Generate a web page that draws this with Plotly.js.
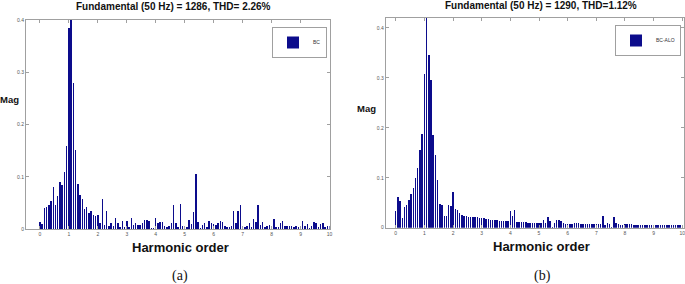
<!DOCTYPE html>
<html>
<head>
<meta charset="utf-8">
<script src="https://cdn.plot.ly/plotly-3.0.1.min.js"></script>
<style>html,body{margin:0;padding:0;background:#fff;}#chart{width:685px;height:284px;}</style>
</head>
<body>
<div id="chart"></div>
<script>
// FFT bin spacing: 13 bins per harmonic order
const binsPerHarmonic = 13;

// (a) BC spectrum, magnitude per bin (bin 0 .. 130 -> harmonic 0 .. 10)
const magBC = [
  0.013,0.010,0.041,0.042,0.045,0.054,0.081,0.046,0.064,0.090,
  0.084,0.110,0.158,0.385,0.410,0.280,0.152,0.087,0.065,0.057,
  0.038,0.042,0.031,0.035,0.026,0.025,0.026,0.011,0.057,0.008,
  0.035,0.006,0.011,0.006,0.022,0.011,0.004,0.016,0.003,0.016,
  0.003,0.022,0.008,0.012,0.008,0.008,0.012,0.017,0.017,0.015,
  0.001,0.001,0.022,0.011,0.014,0.013,0.006,0.003,0.006,0.012,
  0.046,0.011,0.004,0.047,0.006,0.006,0.003,0.017,0.009,0.032,
  0.106,0.014,0.001,0.008,0.012,0.004,0.015,0.011,0.009,0.008,
  0.011,0.015,0.013,0.006,0.004,0.004,0.006,0.035,0.011,0.035,
  0.046,0.001,0.004,0.006,0.011,0.004,0.019,0.014,0.046,0.008,
  0.013,0.003,0.006,0.008,0.003,0.019,0.003,0.004,0.011,0.015,
  0.006,0.006,0.006,0.006,0.003,0.006,0.003,0.006,0.015,0.006,
  0.010,0.001,0.006,0.013,0.011,0.003,0.009,0.011,0.003,0.006,
  0.006
];

// (b) BC-ALO spectrum
const magBCALO = [
  0.034,0.062,0.053,0.020,0.042,0.045,0.055,0.067,0.080,0.100,
  0.119,0.155,0.188,0.307,0.430,0.346,0.296,0.186,0.145,0.095,
  0.047,0.045,0.023,0.023,0.045,0.043,0.072,0.037,0.035,0.030,
  0.025,0.024,0.023,0.022,0.021,0.021,0.021,0.021,0.020,0.019,
  0.019,0.018,0.017,0.016,0.015,0.015,0.015,0.014,0.014,0.013,
  0.013,0.013,0.033,0.023,0.035,0.011,0.011,0.011,0.011,0.011,
  0.010,0.009,0.009,0.009,0.009,0.009,0.010,0.015,0.010,0.021,
  0.013,0.001,0.010,0.015,0.015,0.013,0.010,0.007,0.007,0.007,
  0.008,0.009,0.009,0.009,0.008,0.007,0.007,0.007,0.007,0.007,
  0.007,0.007,0.007,0.007,0.023,0.006,0.010,0.008,0.001,0.021,
  0.010,0.007,0.006,0.006,0.007,0.007,0.007,0.007,0.006,0.006,
  0.006,0.006,0.006,0.006,0.006,0.006,0.006,0.006,0.006,0.006,
  0.006,0.006,0.006,0.005,0.005,0.005,0.005,0.005,0.005,0.005,
  0.005
];

const xTicks = [0,1,2,3,4,5,6,7,8,9,10];
const yTicksA = [0,0.1,0.2,0.3,0.4];
const yTicksB = [0,0.1,0.2,0.3,0.4];
const titleA = 'Fundamental (50 Hz) = 1286, THD= 2.26%';
const titleB = 'Fundamental (50 Hz) = 1290, THD=1.12%';
const nameA = 'BC';
const nameB = 'BC-ALO';

const harmonicA = magBC.map((_, i) => i / binsPerHarmonic);
const harmonicB = magBCALO.map((_, i) => i / binsPerHarmonic);

const barColor = '#0c0c8c';
const W = 685, H = 284;
const px = v => v / W;
const py = v => (H - v) / H;

const traces = [
  {type:'bar', x: harmonicA, y: magBC, name: nameA, xaxis:'x', yaxis:'y', legend:'legend',
   width: 0.05, marker:{color: barColor, line:{width:0}}},
  {type:'bar', x: harmonicB, y: magBCALO, name: nameB, xaxis:'x2', yaxis:'y2', legend:'legend2',
   width: 0.05, marker:{color: barColor, line:{width:0}}}
];

const axisStyle = {
  showline:true, linecolor:'#a0a0a0', linewidth:1, mirror:'allticks',
  ticks:'inside', ticklen:3, tickcolor:'#a0a0a0', tickwidth:1,
  showgrid:false, zeroline:false, ticklabeloverflow:'allow',
  tickfont:{family:'Liberation Sans, Arial, sans-serif', size:5, color:'#555'}
};

const annFont = (size) => ({family:'Liberation Sans, Arial, sans-serif', size: size, color:'#111', weight:'bold'});
const annotations = [
  {text:'<b>'+titleA+'</b>', x:px(173), y:py(7), font:annFont(10)},
  {text:'<b>'+titleB+'</b>', x:px(541), y:py(5.5), font:annFont(10)},
  {text:'<b>Mag</b>', x:px(9.5), y:py(99), font:annFont(9.5)},
  {text:'<b>Mag</b>', x:px(366.7), y:py(108), font:annFont(9.5)},
  {text:'<b>Harmonic order</b>', x:px(180), y:py(247), font:annFont(13)},
  {text:'<b>Harmonic order</b>', x:px(541.7), y:py(246), font:annFont(13)},
  {text:'(a)', x:px(179.5), y:py(276), font:{family:'Liberation Serif, Times New Roman, serif', size:14, color:'#111'}},
  {text:'(b)', x:px(542), y:py(276), font:{family:'Liberation Serif, Times New Roman, serif', size:14, color:'#111'}}
].map(a => Object.assign({xref:'paper', yref:'paper', xanchor:'center', yanchor:'middle', showarrow:false, borderpad:0}, a));

const legendStyle = {
  xanchor:'right', yanchor:'top', bgcolor:'#fff', bordercolor:'#a0a0a0', borderwidth:1,
  font:{family:'Liberation Sans, Arial, sans-serif', size:5, color:'#333'}, itemwidth:30
};

const layout = {
  width: W, height: H,
  margin:{l:0, r:0, t:0, b:0, pad:0},
  paper_bgcolor:'#fff', plot_bgcolor:'#fff',
  showlegend:true,
  bargap:0,
  xaxis: Object.assign({}, axisStyle, {domain:[px(26), px(329.5)], range:[-0.48, 10], tickvals:xTicks, ticktext:xTicks.map(String), anchor:'y'}),
  yaxis: Object.assign({}, axisStyle, {domain:[py(229), py(20)], range:[0, 0.4], tickvals:yTicksA, ticktext:yTicksA.map(String), anchor:'x'}),
  xaxis2: Object.assign({}, axisStyle, {domain:[px(385.7), px(684)], range:[-0.35, 10.06], tickvals:xTicks, ticktext:xTicks.map(String), anchor:'y2'}),
  yaxis2: Object.assign({}, axisStyle, {domain:[py(227.7), py(18)], range:[0, 0.42], tickvals:yTicksB, ticktext:yTicksB.map(String), anchor:'x2'}),
  legend: Object.assign({}, legendStyle, {x:px(327), y:py(27)}),
  legend2: Object.assign({}, legendStyle, {x:px(681), y:py(25)}),
  annotations: annotations
};

Plotly.newPlot('chart', traces, layout, {staticPlot:true, displayModeBar:false});
</script>
</body>
</html>
